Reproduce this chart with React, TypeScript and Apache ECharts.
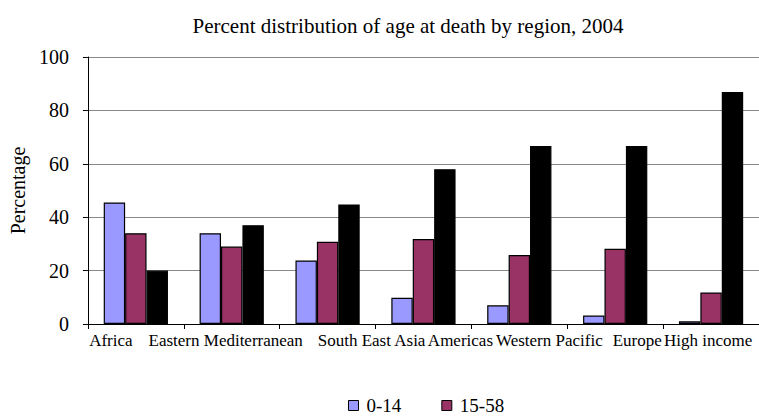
import React, { useEffect, useRef } from "react";
import * as echarts from "echarts";

const categories = [
  "Africa",
  "Eastern Mediterranean",
  "South East Asia",
  "Americas",
  "Western Pacific",
  "Europe",
  "High income",
];
const age0to14 = [45.5, 34, 23.8, 9.8, 7, 3.2, 1];
const age15to58 = [34, 29, 30.8, 31.8, 25.8, 28.2, 11.8];
const age59plus = [20, 37, 44.8, 58, 66.7, 66.7, 86.9];
const seriesNames = ["0-14", "15-58", "59+"];
const legendItems = ["0-14", "15-58"];
const yTicks = { min: 0, max: 100, interval: 20 };
const titleText = "Percent distribution of age at death by region, 2004";
const yAxisName = "Percentage";

const labelShift = [-25, -6, 44, 37, 30, 22, -3];
const FONT = "Liberation Serif";

export default function App() {
  const ref = useRef<HTMLDivElement>(null);
  useEffect(() => {
    if (!ref.current) return;
    const chart = echarts.init(ref.current, null, { renderer: "svg" });
    const rich: Record<string, any> = {};
    labelShift.forEach((d, i) => {
      rich["c" + i] = {
        fontFamily: FONT,
        fontSize: 17,
        color: "#000",
        padding: d >= 0 ? [0, 0, 0, 2 * d] : [0, -2 * d, 0, 0],
      };
    });
    const barStyle = (color: string) => ({
      color,
      borderColor: "#000",
      borderWidth: 1.2,
    });
    chart.setOption({
      animation: false,
      backgroundColor: "#fff",
      textStyle: { fontFamily: FONT },
      title: {
        text: titleText,
        left: 403,
        textAlign: "center",
        top: 10,
        textStyle: {
          fontFamily: FONT,
          fontWeight: "normal",
          fontSize: 21,
          color: "#000",
        },
      },
      legend: {
        data: legendItems,
        left: 348,
        top: 396,
        padding: 0,
        icon: "rect",
        itemWidth: 10,
        itemHeight: 10,
        itemGap: 40,
        textStyle: {
          fontFamily: FONT,
          fontSize: 19,
          lineHeight: 16,
          color: "#000",
          padding: [0, 0, 0, 3],
        },
        itemStyle: { borderColor: "#000", borderWidth: 1 },
      },
      grid: { left: 82, top: 57, width: 684, height: 267 },
      xAxis: {
        type: "category",
        data: categories,
        axisLine: { lineStyle: { color: "#000", width: 1 } },
        axisTick: { show: true, length: 5, lineStyle: { color: "#000" } },
        axisLabel: {
          interval: 0,
          margin: 8,
          fontFamily: FONT,
          fontSize: 17,
          color: "#000",
          formatter: (v: string) => {
            const i = categories.indexOf(v);
            return "{c" + i + "|" + v + "}";
          },
          rich,
        },
      },
      yAxis: {
        type: "value",
        min: yTicks.min,
        max: yTicks.max,
        interval: yTicks.interval,
        name: yAxisName,
        nameLocation: "middle",
        nameGap: 55,
        nameTextStyle: { fontFamily: FONT, fontSize: 20, color: "#000" },
        axisLine: { show: true, lineStyle: { color: "#000", width: 1 } },
        axisTick: { show: true, length: 5, lineStyle: { color: "#000" } },
        axisLabel: {
          margin: 19,
          fontFamily: FONT,
          fontSize: 20,
          color: "#000",
        },
        splitLine: { show: true, lineStyle: { color: "#888", width: 1.2 } },
      },
      series: [
        {
          name: seriesNames[0],
          type: "bar",
          data: age0to14,
          barGap: "0%",
          barCategoryGap: "33%",
          itemStyle: barStyle("#9999ff"),
        },
        {
          name: seriesNames[1],
          type: "bar",
          data: age15to58,
          barGap: "0%",
          barCategoryGap: "33%",
          itemStyle: barStyle("#993366"),
        },
        {
          name: seriesNames[2],
          type: "bar",
          data: age59plus,
          barGap: "0%",
          barCategoryGap: "33%",
          itemStyle: barStyle("#000000"),
        },
      ],
    });
    return () => chart.dispose();
  }, []);
  return (
    <div
      ref={ref}
      style={{ position: "absolute", left: 0, top: 0, width: 759, height: 417 }}
    />
  );
}
